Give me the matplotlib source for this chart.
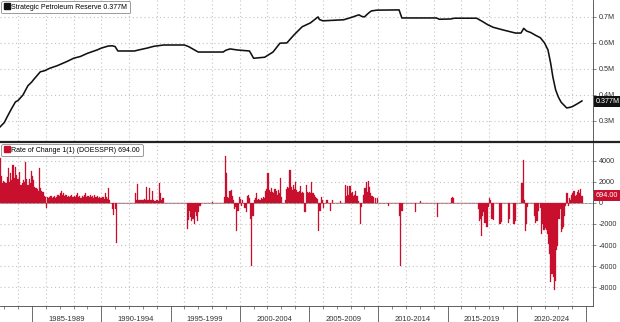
"""Strategic Petroleum Reserve level and its weekly rate of change (Bloomberg style)."""

import matplotlib.pyplot as plt
import matplotlib.transforms as mtransforms
import numpy as np
from matplotlib.lines import Line2D

plt.rcParams["font.family"] = ["Liberation Sans", "DejaVu Sans"]

# SPR level, million barrels
level_year = [
    1982.69, 1983.0, 1983.2, 1983.5, 1983.8, 1984.0, 1984.35, 1984.7, 1985.0, 1985.1,
    1985.6, 1985.9, 1986.3, 1986.8, 1987.5, 1988.0, 1988.5, 1989.0, 1989.7, 1990.0,
    1990.5, 1990.8, 1991.0, 1991.2, 1992.4, 1992.7, 1993.3, 1993.8, 1994.5, 1996.0,
    1996.3, 1996.6, 1997.0, 1998.8, 1999.0, 1999.3, 1999.8, 2000.7, 2000.85, 2001.0,
    2001.8, 2002.4, 2002.9, 2003.4, 2003.9, 2004.5, 2005.1, 2005.65, 2005.75, 2006.0,
    2007.5, 2008.0, 2008.6, 2008.8, 2009.0, 2009.3, 2009.5, 2009.9, 2011.5, 2011.7,
    2014.2, 2014.4, 2015.2, 2015.5, 2017.1, 2017.5, 2017.9, 2018.3, 2019.0, 2019.9,
    2020.3, 2020.5, 2020.7, 2021.0, 2021.4, 2021.7, 2022.0, 2022.25, 2022.45, 2022.6,
    2022.8, 2023.0, 2023.2, 2023.6, 2023.8, 2024.0, 2024.4, 2024.7,
]
level_mbbl = [
    277, 294, 315, 345, 373, 379, 400, 435, 451, 458,
    489, 493, 503, 512, 528, 541, 548, 560, 573, 580,
    588, 589, 586, 569, 569, 573, 580, 587, 592, 592,
    586, 577, 565, 565, 572, 577, 573, 569, 555, 541,
    545, 565, 599, 600, 630, 662, 677, 700, 690, 685,
    689, 697, 708, 702, 700, 715, 723, 726, 727, 696,
    696, 691, 692, 695, 695, 683, 670, 660, 650, 638,
    638, 656, 646, 640, 628, 620, 600, 573, 520, 470,
    420, 392, 372, 350, 352, 355, 367, 377,
]

# weekly change, thousand barrels, one value per month, Sep 1982 .. Sep 2024
change_kb = [
    4300, 2600, 1900, 2100,
    2000, 1900, 2500, 3300, 2000, 2800, 2200, 3600, 2400, 3400, 2700, 2300,  # 1983
    2300, 2900, 1700, 1900, 2200, 2000, 3900, 2300, 1700, 2300, 1900, 3000,  # 1984
    2600, 2200, 1500, 1400, 1300, 1100, 3300, 1400, 1100, 1000, 700, 600,  # 1985
    -500, 600, 500, 600, 700, 500, 600, 700, 500, 600, 800, 700,  # 1986
    900, 1100, 800, 900, 700, 800, 600, 700, 600, 700, 800, 600,  # 1987
    700, 600, 800, 900, 600, 700, 500, 700, 600, 800, 900, 600,  # 1988
    700, 600, 800, 600, 700, 500, 800, 600, 700, 500, 600, 500,  # 1989
    500, 600, 400, 900, 600, 400, 1400, 300, 0, -600, -1100, 0,  # 1990
    -600, -3800, 0, 0, 0, 0, 0, 0, 0, 0, 0, 0,  # 1991
    0, 0, 0, 0, 0, 900, 300, 1800, 300, 300, 300, 300,  # 1992
    300, 400, 300, 1500, 300, 1400, 300, 300, 1100, 300, 200, 300,  # 1993
    300, 200, 1900, 900, 300, 500, 0, 0, 0, 0, 0, 0,  # 1994
    0, 0, 0, 0, 0, 0, 0, 0, 0, 0, 0, 0,  # 1995
    0, 0, -2500, -1600, -800, -1300, -1700, -1500, -2000, -900, -1200, -1700,  # 1996
    -900, -300, 0, 0, 0, 0, 0, 0, 0, 0, 0, 0,  # 1997
    100, 0, 0, 0, 0, 0, 0, 0, 0, 0, 600, 4500,  # 1998
    2800, 600, 500, 1100, 1200, 700, 300, -600, -400, -2700, -800, 600,  # 1999
    400, -300, 300, 0, -500, -900, 700, 800, 500, -1500, -6000, -1200,  # 2000
    300, 500, 900, 300, 400, 300, 500, 400, 600, 500, 1100, 1300,  # 2001
    2800, 1200, 1000, 1400, 1000, 900, 1300, 1100, 800, 1200, 900, 2400,  # 2002
    600, 0, 0, 300, 1300, 1500, 1400, 3100, 1500, 1200, 1700, 1300,  # 2003
    2000, 1200, 1000, 1100, 1600, 900, 1000, 900, -900, 1700, 1000, 900,  # 2004
    1000, 900, 2000, 900, 800, 600, 500, 400, -2700, -800, 600, 300,  # 2005
    -500, 0, 0, 300, 0, 0, -800, 0, 300, 0, 0, 0,  # 2006
    0, 0, 0, 200, 0, 0, 0, 1700, 700, 1600, 800, 1600,  # 2007
    900, 1000, 700, 800, 1100, 700, 200, 0, -2000, -400, 0, 800,  # 2008
    1400, 2000, 1000, 2100, 1500, 900, 700, 600, 0, 500, 0, 500,  # 2009
    0, 0, 0, 0, 0, 0, 0, 0, -300, 0, 0, 0,  # 2010
    0, 0, 0, 0, 0, 0, -1200, -6000, -800, 0, 0, 0,  # 2011
    0, 0, 0, 0, 0, 0, 0, 0, -900, 0, 0, 0,  # 2012
    200, 0, 0, 0, 0, 0, 0, 0, 0, 0, 0, 0,  # 2013
    0, 0, 0, -1300, 0, 0, 0, 0, 0, 0, 0, 0,  # 2014
    0, 0, 0, 500, 600, 500, 0, 0, 0, 0, 0, 0,  # 2015
    0, 0, 0, 0, 0, 0, 0, 0, 0, 0, 0, 0,  # 2016
    0, 0, -600, -1700, -1500, -3100, -1200, -900, -1900, -2300, -2300, -400,  # 2017
    500, 300, -1500, -1600, 0, 0, 0, 0, 0, -2000, -1800, 0,  # 2018
    0, 0, 0, 0, -1900, -1500, 0, 0, 0, -2000, -1700, 0,  # 2019
    0, 0, 0, 0, 1900, 4100, 300, -2700, -2000, -400, 0, 0,  # 2020
    0, 0, 0, -1200, -1900, -1700, -800, 0, -500, -3000, -2000, -2600,  # 2021
    -2400, -2600, -3000, -3900, -4900, -7500, -6800, -7000, -8300, -7400, -4500, -4100,  # 2022
    -1500, -600, -2800, -2500, -2300, -1200, -300, 900, -300, 500, 300, 800,  # 2023
    900, 1100, 700, 800, 1000, 1200, 900, 1300, 694,  # 2024
]

period_starts = [1985, 1990, 1995, 2000, 2005, 2010, 2015, 2020]
period_labels = ["1985-1989", "1990-1994", "1995-1999", "2000-2004",
                 "2005-2009", "2010-2014", "2015-2019", "2020-2024"]

red = "#c8102e"
grid_kw = dict(color="#c4c4c4", linestyle=(0, (1, 2.5)), linewidth=0.8)
tick_color = "#333333"

W, H = 620, 322
fig = plt.figure(figsize=(W / 100, H / 100), dpi=100)
fig.patch.set_facecolor("white")

ax_top = fig.add_axes([0, 1 - 141 / H, 593 / W, 141 / H])
ax_bot = fig.add_axes([0, 1 - 306 / H, 593 / W, 163 / H])

xlim = (1982.69, 2025.5)
grid_years = np.arange(1984, 2025, 2)

# --- top panel: level line
ax_top.plot(level_year, level_mbbl, color="#111111", lw=1.15)
ax_top.set_xlim(xlim)
ax_top.set_ylim(223, 765)
ax_top.set_yticks([300, 400, 500, 600, 700])
ax_top.set_yticklabels([f"{v / 1000:.1f}M" for v in [300, 400, 500, 600, 700]])
ax_top.set_xticks([])
ax_top.grid(axis="y", **grid_kw)
for yr in grid_years:
    ax_top.axvline(yr, zorder=0, **grid_kw)

# --- bottom panel: monthly bars
months = 1982 + (8 + np.arange(len(change_kb)) + 0.5) / 12
ax_bot.bar(months, change_kb, width=1 / 12, color=red, edgecolor=red, linewidth=0.2, zorder=2)
ax_bot.axhline(0, color="#888888", lw=0.6, zorder=1)
ax_bot.set_xlim(xlim)
ax_bot.set_ylim(-9800, 5700)
bot_ticks = [-8000, -6000, -4000, -2000, 0, 2000, 4000]
ax_bot.set_yticks(bot_ticks)
ax_bot.set_yticklabels([str(v) for v in bot_ticks])
ax_bot.grid(axis="y", **grid_kw)
for yr in grid_years:
    ax_bot.axvline(yr, zorder=0, **grid_kw)

ax_bot.set_xticks(period_starts + [2025])
ax_bot.set_xticks(np.arange(1983, 2026), minor=True)
ax_bot.tick_params(axis="x", which="major", length=12, width=0.6, color="#555555", labelbottom=False)
ax_bot.tick_params(axis="x", which="minor", length=2, width=0.5, color="#555555")
trans = mtransforms.blended_transform_factory(ax_bot.transData, ax_bot.transAxes)
for start, lab in zip(period_starts, period_labels):
    ax_bot.text(start + 2.5, -0.082, lab, transform=trans, ha="center", va="center",
                fontsize=5.5, color=tick_color)

for ax in (ax_top, ax_bot):
    ax.yaxis.tick_right()
    ax.tick_params(axis="y", length=2, width=0.5, pad=2, labelsize=5.2, labelcolor=tick_color,
                   color="#555555")
    ax.spines["left"].set_visible(False)
    ax.spines["top"].set_visible(False)
    ax.spines["right"].set_color("#444444")
    ax.spines["right"].set_linewidth(0.6)
ax_top.spines["bottom"].set_visible(False)
ax_bot.spines["bottom"].set_color("#444444")
ax_bot.spines["bottom"].set_linewidth(0.6)

# thick separator between the panels
fig.add_artist(Line2D([0, 1], [1 - 141.5 / H] * 2, color="#222222", lw=1.6))

# last-value tags on the right axis (drawn over the tick label, as in the source)
tag_top = mtransforms.blended_transform_factory(ax_top.transAxes, ax_top.transData)
ax_top.text(1.004, level_mbbl[-1] - 3, "0.377M", transform=tag_top, ha="left", va="center",
            fontsize=5.2, color="white", zorder=5,
            bbox=dict(boxstyle="square,pad=0.25", facecolor="#111111", edgecolor="none"))
tag_bot = mtransforms.blended_transform_factory(ax_bot.transAxes, ax_bot.transData)
ax_bot.text(1.004, change_kb[-1], "694.00", transform=tag_bot, ha="left", va="center",
            fontsize=5.2, color="white", zorder=5,
            bbox=dict(boxstyle="square,pad=0.25", facecolor=red, edgecolor="none"))

# legends
leg_kw = dict(loc="upper left", bbox_to_anchor=(0.0, 1.0), fontsize=5, frameon=True,
              borderpad=0.35, handletextpad=0.3, handlelength=0.8, borderaxespad=0.2,
              fancybox=True, framealpha=1)
h_top = Line2D([], [], marker="s", ls="", color="#111111", markersize=4)
lg = ax_top.legend([h_top], ["Strategic Petroleum Reserve 0.377M"], **leg_kw)
lg.get_frame().set_edgecolor("#8a8a8a")
lg.get_frame().set_linewidth(0.6)
h_bot = Line2D([], [], marker="s", ls="", color=red, markersize=4)
lg = ax_bot.legend([h_bot], ["Rate of Change 1(1) (DOESSPR) 694.00"], **leg_kw)
lg.get_frame().set_edgecolor("#8a8a8a")
lg.get_frame().set_linewidth(0.6)

fig.savefig("out.png", dpi=100, facecolor="white")
